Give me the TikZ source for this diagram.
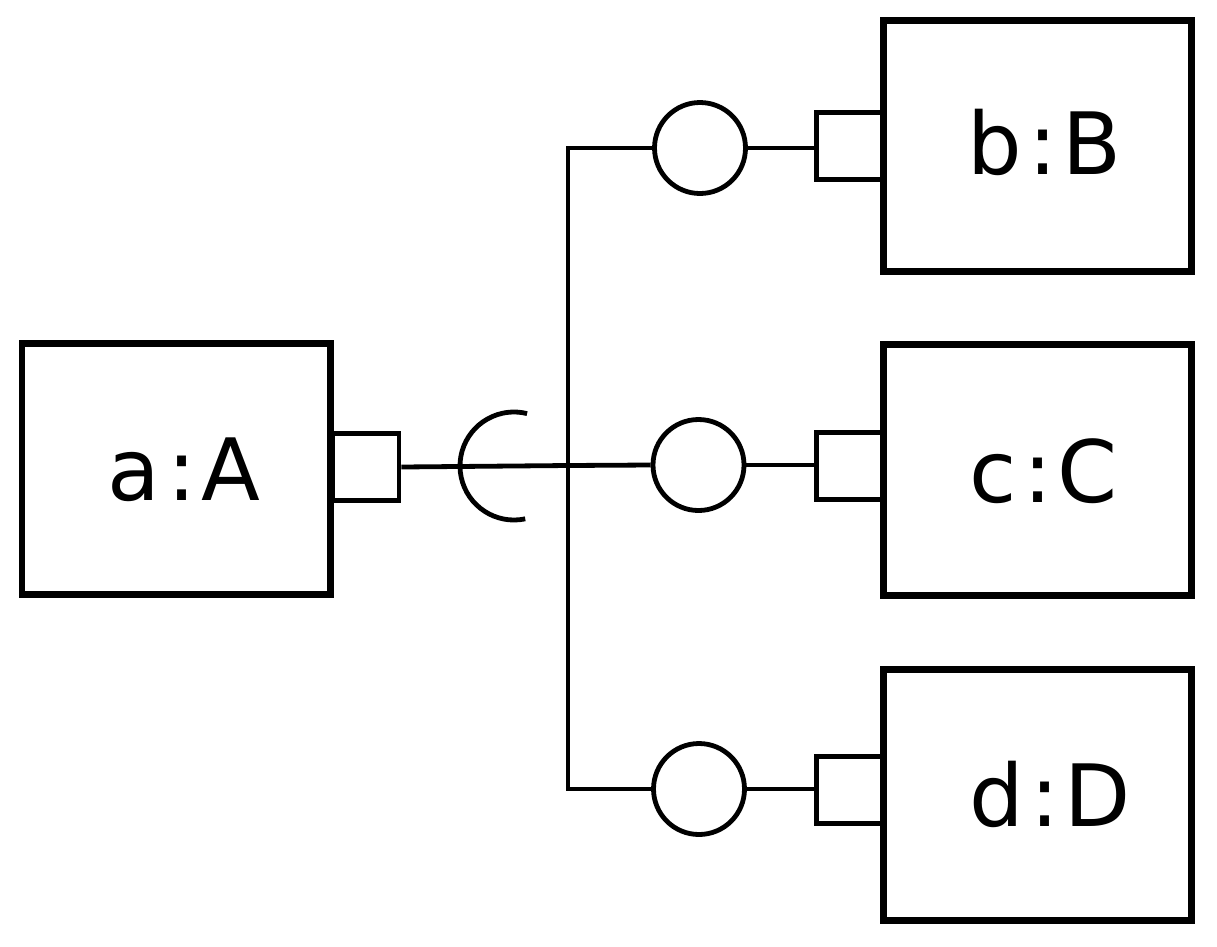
\documentclass[tikz,border=0pt]{standalone}
\usepackage{fontspec}
\setmainfont{DejaVu Sans}
\newcommand{\lblsep}[3]{#1\kern7pt:\kern5pt #3}
\begin{document}
\begin{tikzpicture}[x=1pt,y=-1pt,
  thin line/.style={line width=4.8pt},
  compbox/.style={draw, line width=6.8pt, fill=white, minimum width=308.5pt, minimum height=251pt, inner sep=0pt},
  portbox/.style={draw, thin line, fill=white, minimum width=66pt, minimum height=67pt, inner sep=0pt},
  lolli/.style={draw, thin line, circle, minimum size=91pt, inner sep=0pt},
  lbl/.style={anchor=base west, inner sep=0pt, font=\fontsize{86}{100}\selectfont}]
\useasboundingbox (0,0) rectangle (1217,946);
% ports
\node[portbox] (pa) at (366,467) {};
\node[portbox] (pb) at (849.5,146.3) {};
\node[portbox] (pc) at (849.5,465.6) {};
\node[portbox] (pd) at (849.5,790.2) {};
% boxes
\node[compbox] (ba) at (176.25,469.25) {};
\node[compbox] (bb) at (1037.5,145.75) {};
\node[compbox] (bc) at (1037.5,470) {};
\node[compbox] (bd) at (1037.5,795.25) {};
\node[lbl] (ta) at ([shift={(89,31)}]ba.west) {\lblsep{a}{:}{A}};
\node[lbl] (tb) at ([shift={(87,29)}]bb.west) {\lblsep{b}{:}{B}};
\node[lbl] (tc) at ([shift={(89,32)}]bc.west) {\lblsep{c}{:}{C}};
\node[lbl] (td) at ([shift={(89,31)}]bd.west) {\lblsep{d}{:}{D}};
% lollipops
\node[lolli] (cb) at (700,148) {};
\node[lolli] (cc) at (698.5,465) {};
\node[lolli] (cd) at (699,789) {};
% socket
\coordinate (sk) at (514,466);
\coordinate (jn) at (568,465.5);
\draw[thin line] ([shift={(78:54)}]sk) arc[start angle=78, end angle=284, radius=54];
% connectors
\draw[thin line] (pa.east) -- (jn) -- (cc.west);
\draw[thin line] (cb.west) -| (jn) |- (cd.west);
\draw[thin line] (cb.east) -- (cb.east -| pb.west);
\draw[thin line] (cc.east) -- (cc.east -| pc.west);
\draw[thin line] (cd.east) -- (cd.east -| pd.west);
\end{tikzpicture}
\end{document}
